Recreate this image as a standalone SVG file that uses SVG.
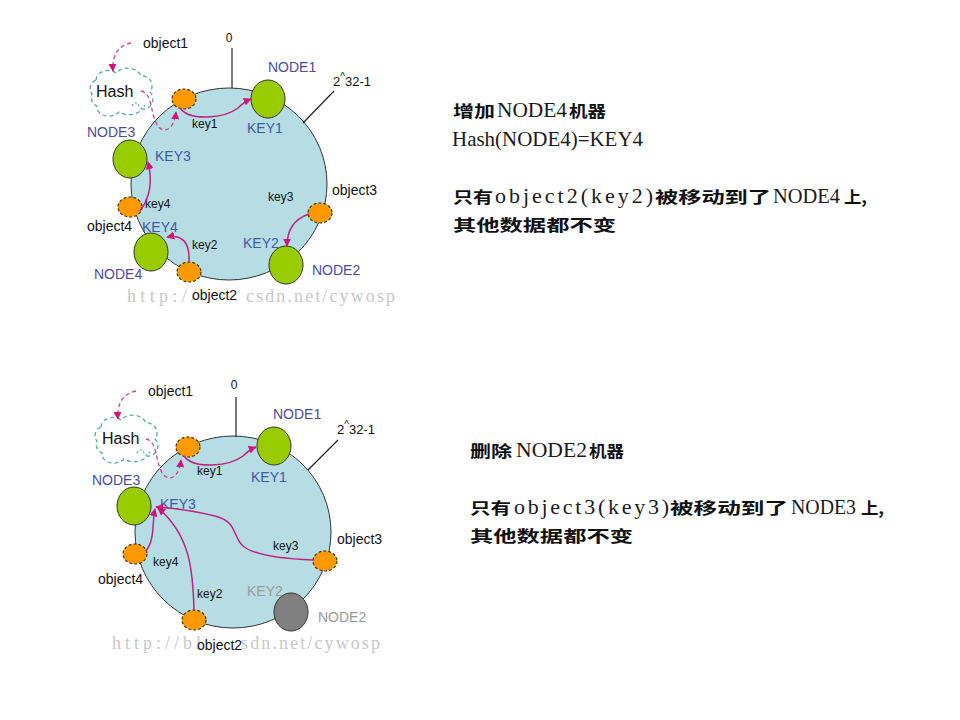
<svg xmlns="http://www.w3.org/2000/svg" width="960" height="720" viewBox="0 0 960 720">
<defs>
<style>
.ring{fill:#b6dde4;stroke:#333;stroke-width:1}
.tick{stroke:#222;stroke-width:1.2;fill:none}
.grn{fill:#99cc00;stroke:#333;stroke-width:1}
.gry{fill:#808080;stroke:#333;stroke-width:1}
.org{fill:#ff9900;stroke:#4a3600;stroke-width:1.2;stroke-dasharray:3 2}
.t{font-family:"Liberation Sans",Arial,sans-serif;fill:#111}
.s12{font-size:12px}
.s13{font-size:13px}
.s14{font-size:14px}
.s16{font-size:16px}
.nd{font-family:"Liberation Sans",Arial,sans-serif;font-size:14px;fill:#4b4b9c}
.ky{font-family:"Liberation Sans",Arial,sans-serif;font-size:14px;fill:#3e5aa6}
.gl{font-family:"Liberation Sans",Arial,sans-serif;font-size:14px;fill:#9a9a9a}
.conn{fill:none;stroke:#c0207f;stroke-width:1.5;marker-end:url(#ah)}
.dconn{fill:none;stroke:#d0408a;stroke-width:1.3;stroke-dasharray:4 3;marker-end:url(#ah)}
.cloud{fill:#fff;stroke:#55aaa5;stroke-width:1.3;stroke-dasharray:4 3}
.wm{font-family:"Liberation Serif",serif;font-size:18px;fill:#c8c8c8}
.rt{fill:#111}
.cjk{font-family:"Noto Sans CJK SC","Noto Sans CJK TC",sans-serif;font-weight:bold;font-size:16px}
.lat{font-family:"Liberation Serif",serif;font-size:22px;font-weight:normal;fill:#1a1a1a}
</style>
<marker id="ah" viewBox="0 0 10 10" refX="9" refY="5" markerWidth="8" markerHeight="8" markerUnits="userSpaceOnUse" orient="auto">
<path d="M0,0 L10,5 L0,10 z" fill="#d0147a"/>
</marker>
</defs>
<rect width="960" height="720" fill="#fff"/>

<!-- ============ TOP DIAGRAM ============ -->
<g id="top-ring">
<ellipse class="ring" cx="229" cy="184" rx="98" ry="96"/>
<line class="tick" x1="232" y1="48" x2="232" y2="88"/>
<text class="t s12" x="229" y="42" text-anchor="middle">0</text>
<line class="tick" x1="303" y1="123" x2="334" y2="91"/>
<text class="t s13" x="333" y="86">2<tspan font-size="10" dy="-6">^</tspan><tspan dy="6" x="345">32-1</tspan></text>
</g>

<g id="top-watermark">
<text class="wm" x="127" y="302" textLength="69" lengthAdjust="spacing">http://</text>
<text class="wm" x="246" y="302" textLength="149" lengthAdjust="spacing">csdn.net/cywosp</text>
</g>

<g id="top-hash">
<path class="cloud" d="M96,80 a12,10 0 0 1 20,-7 a14,11 0 0 1 25,3 a10,10 0 0 1 9,16 a10,10 0 0 1 -8,17 a14,9 0 0 1 -23,3 a12,9 0 0 1 -22,-6 a9,9 0 0 1 -5,-12 a9,9 0 0 1 4,-14 z"/>
<path d="M132,106 c2,-4 6,-4 7,0 c1,3 5,3 6,-2" fill="none" stroke="#55aaa5" stroke-width="1.2" stroke-dasharray="2 2"/>
<text class="t s16" x="96" y="97">Hash</text>
</g>
<g id="top-object1"><text class="t s14" x="143" y="48">object1</text></g>

<g id="top-node1">
<ellipse class="grn" cx="268" cy="99" rx="17" ry="19"/>
<text class="nd" x="268" y="72">NODE1</text>
<text class="ky" x="247" y="133">KEY1</text>
</g>
<g id="top-key1">
<ellipse class="org" cx="184" cy="99" rx="12" ry="10"/>
<text class="t s12" x="192" y="128">key1</text>
</g>
<g id="top-node3">
<ellipse class="grn" cx="130" cy="159" rx="17" ry="19"/>
<text class="nd" x="87" y="137">NODE3</text>
<text class="ky" x="155" y="161">KEY3</text>
</g>
<g id="top-object4">
<ellipse class="org" cx="130" cy="207" rx="12" ry="10"/>
<text class="t s14" x="87" y="231">object4</text>
<text class="t s12" x="145" y="208">key4</text>
</g>
<g id="top-node4">
<ellipse class="grn" cx="151" cy="252" rx="17" ry="19"/>
<text class="nd" x="94" y="279">NODE4</text>
<text class="ky" x="142" y="232">KEY4</text>
</g>
<g id="top-object2">
<ellipse class="org" cx="189" cy="272" rx="12" ry="10"/>
<text class="t s14" x="192" y="300">object2</text>
<text class="t s12" x="192" y="249">key2</text>
</g>
<g id="top-object3">
<ellipse class="org" cx="320" cy="213" rx="12" ry="10"/>
<text class="t s14" x="332" y="195">object3</text>
<text class="t s12" x="268" y="201">key3</text>
</g>
<g id="top-node2">
<ellipse class="grn" cx="286" cy="265" rx="17" ry="19"/>
<text class="nd" x="312" y="275">NODE2</text>
<text class="ky" x="243" y="248">KEY2</text>
</g>

<g id="top-connectors">
<path class="dconn" d="M131,43 C116,46 112,58 113,71"/>
<path class="dconn" d="M141,91 C153,93 150,115 158,126 C164,134 174,130 176,112"/>
<path class="conn" d="M180,108 C190,122 225,118 238,108 C242,104 246,101 251,99"/>
<path class="conn" d="M140,211 C152,195 152,178 148,162"/>
<path class="conn" d="M189,262 C190,242 182,234 167,237"/>
<path class="conn" d="M309,214 C294,219 287,230 287,246"/>
</g>

<g id="top-note">
<text class="rt" y="117"><tspan class="cjk" x="453" textLength="42" lengthAdjust="spacingAndGlyphs">增加</tspan><tspan class="lat" x="497" textLength="70" lengthAdjust="spacingAndGlyphs">NODE4</tspan><tspan class="cjk" x="569" textLength="37" lengthAdjust="spacingAndGlyphs">机器</tspan></text>
<text class="rt lat" x="452" y="146" textLength="191" lengthAdjust="spacingAndGlyphs">Hash(NODE4)=KEY4</text>
<text class="rt" y="203"><tspan class="cjk" x="453" textLength="40" lengthAdjust="spacingAndGlyphs">只有</tspan><tspan class="lat" x="495" textLength="158" lengthAdjust="spacing">object2(key2)</tspan><tspan class="cjk" x="655" textLength="116" lengthAdjust="spacingAndGlyphs">被移动到了</tspan><tspan class="lat" x="773" textLength="67" lengthAdjust="spacingAndGlyphs">NODE4</tspan><tspan class="cjk" x="844" textLength="23" lengthAdjust="spacingAndGlyphs">上,</tspan></text>
<text class="rt cjk" x="453" y="231" textLength="163" lengthAdjust="spacingAndGlyphs">其他数据都不变</text>
</g>

<!-- ============ BOTTOM DIAGRAM ============ -->
<g id="bottom-ring">
<ellipse class="ring" cx="233" cy="532" rx="98" ry="96"/>
<line class="tick" x1="236" y1="397" x2="236" y2="437"/>
<text class="t s12" x="234" y="389" text-anchor="middle">0</text>
<line class="tick" x1="308" y1="470" x2="338" y2="440"/>
<text class="t s13" x="337" y="434">2<tspan font-size="10" dy="-6">^</tspan><tspan dy="6" x="349">32-1</tspan></text>
</g>

<g id="bottom-watermark">
<text class="wm" x="112" y="649" textLength="89" lengthAdjust="spacing">http://bl</text>
<text class="wm" x="241" y="649" textLength="139" lengthAdjust="spacing">sdn.net/cywosp</text>
</g>

<g id="bottom-hash">
<path class="cloud" d="M101,427 a12,10 0 0 1 20,-7 a14,11 0 0 1 25,3 a10,10 0 0 1 9,16 a10,10 0 0 1 -8,17 a14,9 0 0 1 -23,3 a12,9 0 0 1 -22,-6 a9,9 0 0 1 -5,-12 a9,9 0 0 1 4,-14 z"/>
<path d="M137,453 c2,-4 6,-4 7,0 c1,3 5,3 6,-2" fill="none" stroke="#55aaa5" stroke-width="1.2" stroke-dasharray="2 2"/>
<text class="t s16" x="102" y="444">Hash</text>
</g>
<g id="bottom-object1"><text class="t s14" x="148" y="396">object1</text></g>

<g id="bottom-node1">
<ellipse class="grn" cx="274" cy="446" rx="17" ry="19"/>
<text class="nd" x="273" y="419">NODE1</text>
<text class="ky" x="251" y="482">KEY1</text>
</g>
<g id="bottom-key1">
<ellipse class="org" cx="188" cy="447" rx="12" ry="10"/>
<text class="t s12" x="197" y="475">key1</text>
</g>
<g id="bottom-node3">
<ellipse class="grn" cx="134" cy="506" rx="17" ry="19"/>
<text class="nd" x="92" y="485">NODE3</text>
<text class="ky" x="160" y="509">KEY3</text>
</g>
<g id="bottom-object4">
<ellipse class="org" cx="135" cy="554" rx="12" ry="10"/>
<text class="t s14" x="98" y="584">object4</text>
<text class="t s12" x="153" y="566">key4</text>
</g>
<g id="bottom-object2">
<ellipse class="org" cx="194" cy="620" rx="12" ry="10"/>
<text class="t s14" x="197" y="650">object2</text>
<text class="t s12" x="197" y="598">key2</text>
</g>
<g id="bottom-object3">
<ellipse class="org" cx="325" cy="561" rx="12" ry="10"/>
<text class="t s14" x="337" y="544">object3</text>
<text class="t s12" x="273" y="550">key3</text>
</g>
<g id="bottom-node2">
<ellipse class="gry" cx="291" cy="612" rx="17" ry="19"/>
<text class="gl" x="318" y="622">NODE2</text>
<text class="gl" x="247" y="596">KEY2</text>
</g>

<g id="bottom-connectors">
<path class="dconn" d="M136,391 C121,394 117,406 118,419"/>
<path class="dconn" d="M146,439 C158,441 155,463 163,474 C169,482 179,478 181,460"/>
<path class="conn" d="M184,456 C194,470 230,466 243,456 C247,452 251,449 256,447"/>
<path class="conn" d="M146,551 C155,540 152,522 155,509"/>
<path class="conn" d="M194,610 C193,570 190,535 158,508"/>
<path class="conn" d="M313,560 C285,559 255,556 243,546 C232,536 238,522 215,516 C195,511 172,508 156,507"/>
</g>

<g id="bottom-note">
<text class="rt" y="457"><tspan class="cjk" x="470" textLength="42" lengthAdjust="spacingAndGlyphs">删除</tspan><tspan class="lat" x="516" textLength="71" lengthAdjust="spacingAndGlyphs">NODE2</tspan><tspan class="cjk" x="589" textLength="35" lengthAdjust="spacingAndGlyphs">机器</tspan></text>
<text class="rt" y="514"><tspan class="cjk" x="470" textLength="41" lengthAdjust="spacingAndGlyphs">只有</tspan><tspan class="lat" x="514" textLength="155" lengthAdjust="spacing">object3(key3)</tspan><tspan class="cjk" x="670" textLength="118" lengthAdjust="spacingAndGlyphs">被移动到了</tspan><tspan class="lat" x="791" textLength="65" lengthAdjust="spacingAndGlyphs">NODE3</tspan><tspan class="cjk" x="861" textLength="23" lengthAdjust="spacingAndGlyphs">上,</tspan></text>
<text class="rt cjk" x="470" y="542" textLength="163" lengthAdjust="spacingAndGlyphs">其他数据都不变</text>
</g>
</svg>
